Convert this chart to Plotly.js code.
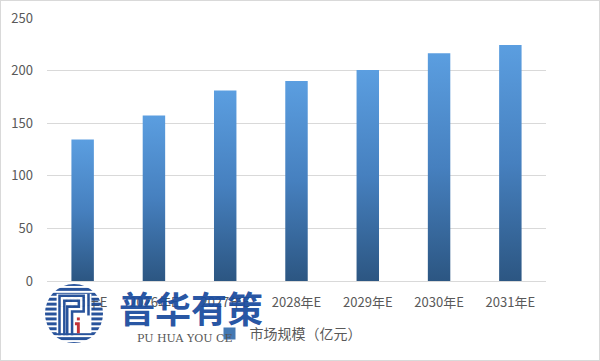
<!DOCTYPE html>
<html>
<head>
<meta charset="utf-8">
<script src="https://cdn.plot.ly/plotly-3.0.1.min.js"></script>
<style>
html,body{margin:0;padding:0;background:#fff;}
#chart{width:600px;height:361px;position:relative;}
#frame{position:absolute;left:0;top:0;width:598px;height:359px;border:1px solid #d9d9d9;pointer-events:none;}
</style>
</head>
<body>
<div id="chart"></div>
<div id="frame"></div>
<script>
// ---- data ----
const categories = ['2025年E','2026年E','2027年E','2028年E','2029年E','2030年E','2031年E'];
const marketSize = [134.5, 157.4, 181, 190, 200.5, 216.5, 224.4];
const seriesName = '市场规模（亿元）';
const yTicks = [0, 50, 100, 150, 200, 250];

const FONT = '"Noto Sans CJK SC", "Noto Sans", sans-serif';

// watermark emblem (decorative) as inline SVG
const emblemSvg =
 '<svg xmlns="http://www.w3.org/2000/svg" width="60" height="64" viewBox="0 0 60 64">' +
 '<defs><clipPath id="c"><circle cx="30" cy="32" r="30"/></clipPath></defs>' +
 '<g clip-path="url(#c)" fill="#1d4a96">' +
 [0,5,10,15,20,25,30,35,40,45,50,55,60].map(y => '<rect x="0" y="'+(y+1)+'" width="60" height="3"/>').join('') +
 '</g>' +
 '<rect x="12" y="12" width="36" height="40" fill="#fff"/>' +
 '<g fill="none" stroke="#1d4a96" stroke-width="2.6">' +
 '<path d="M15 54 V14 H40 V30 H28 V54"/>' +
 '<path d="M20 54 V19 H35 V25 H23 V54"/>' +
 '<path d="M45 12 V34"/>' +
 '</g>' +
 '<rect x="33" y="36" width="3" height="3" fill="#c0282d"/>' +
 '<path d="M31 41 H36 V52 H33 V44 H31 Z" fill="#c0282d"/>' +
 '</svg>';

const trace = {
  type: 'bar',
  x: categories,
  y: marketSize,
  name: seriesName,
  marker: { color: '#4479b3' },
  showlegend: true,
  hoverinfo: 'x+y'
};

const layout = {
  width: 600,
  height: 361,
  margin: { l: 47, r: 54, t: 18, b: 80 },
  paper_bgcolor: '#ffffff',
  plot_bgcolor: '#ffffff',
  font: { family: FONT, size: 13, color: '#595959' },
  bargap: 0.685,
  showlegend: true,
  legend: {
    orientation: 'h',
    xref: 'container', yref: 'container',
    x: 0.48, xanchor: 'center',
    y: 0.075, yanchor: 'middle',
    font: { family: FONT, size: 14, color: '#595959' },
    itemwidth: 30
  },
  xaxis: {
    type: 'category',
    showgrid: false,
    showline: true,
    linecolor: '#d9d9d9',
    linewidth: 1,
    ticks: '',
    tickfont: { family: FONT, size: 13, color: '#595959' },
    ticklabelstandoff: 9
  },
  yaxis: {
    range: [0, 250],
    tickvals: yTicks,
    showgrid: true,
    gridcolor: '#d9d9d9',
    gridwidth: 1,
    zeroline: false,
    showline: false,
    ticks: '',
    tickfont: { family: FONT, size: 13, color: '#595959' },
    ticklabelstandoff: 13
  },
  images: [{
    source: 'data:image/svg+xml;charset=utf-8,' + encodeURIComponent(emblemSvg),
    xref: 'paper', yref: 'paper',
    x: (45 - 47) / 499, y: (281 - 282) / 263,
    sizex: 58 / 499, sizey: 63 / 263,
    xanchor: 'left', yanchor: 'top',
    sizing: 'stretch',
    opacity: 0.95,
    layer: 'above'
  }],
  annotations: [
    {
      text: '<b>普华有策</b>',
      xref: 'paper', yref: 'paper',
      x: (191 - 47) / 499, y: (281 - 307) / 263,
      xanchor: 'center', yanchor: 'middle',
      showarrow: false,
      font: { family: FONT, size: 36, color: 'rgba(27,76,158,0.95)' }
    },
    {
      text: 'PU HUA YOU CE',
      xref: 'paper', yref: 'paper',
      x: (184 - 47) / 499, y: (281 - 338) / 263,
      xanchor: 'center', yanchor: 'middle',
      showarrow: false,
      font: { family: '"DejaVu Serif", "Liberation Serif", serif', size: 11, color: '#555555' }
    }
  ]
};

function applyGradient(gd) {
  const svg = gd.querySelector('.main-svg');
  if (!svg) return;
  let defs = svg.querySelector('defs');
  if (!defs) { defs = document.createElementNS('http://www.w3.org/2000/svg', 'defs'); svg.insertBefore(defs, svg.firstChild); }
  if (!defs.querySelector('#barGrad')) {
    const g = document.createElementNS('http://www.w3.org/2000/svg', 'linearGradient');
    g.setAttribute('id', 'barGrad');
    g.setAttribute('x1', '0'); g.setAttribute('y1', '0');
    g.setAttribute('x2', '0'); g.setAttribute('y2', '1');
    [['0', '#5b9ee0'], ['0.5', '#4680bf'], ['1', '#2c5682']].forEach(([o, c]) => {
      const s = document.createElementNS('http://www.w3.org/2000/svg', 'stop');
      s.setAttribute('offset', o); s.setAttribute('stop-color', c);
      g.appendChild(s);
    });
    defs.appendChild(g);
  }
  gd.querySelectorAll('.barlayer .point path').forEach(p => { p.style.fill = 'url(#barGrad)'; });
}

const gd = document.getElementById('chart');
Plotly.newPlot(gd, [trace], layout, { displayModeBar: false, staticPlot: true }).then(() => {
  applyGradient(gd);
  gd.on && gd.on('plotly_afterplot', () => applyGradient(gd));
});
</script>
</body>
</html>
